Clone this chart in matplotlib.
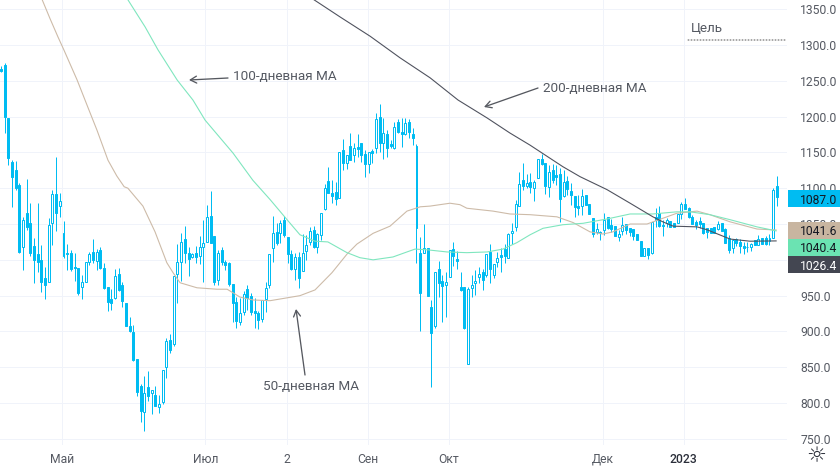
import matplotlib
matplotlib.use("Agg")
import matplotlib.pyplot as plt
from matplotlib.patches import Rectangle

plt.rcParams['font.family'] = ['Roboto', 'DejaVu Sans']

highs = [1270,1275,1198,1139,1138,1107,1060,1113,1079,1031,
 1079,1021,990,1058,1097,1144,1093,1054,1022,1014,
 1010,989,979,997,1011,1029,1015,1018,996,962,
 959,987,989,969,940,920,909,862,827,838,
 845,819,824,812,846,891,897,978,1022,1038,
 1047,1018,1010,1019,1033,1056,1077,1096,1033,1014,
 1018,1000,997,966,948,947,956,965,954,947,
 929,944,969,1008,1061,1051,1056,1061,1032,1014,
 1010,1011,1036,1035,1046,1047,1037,1065,1106,1130,
 1111,1109,1151,1169,1146,1177,1163,1176,1163,1153,
 1151,1155,1205,1218,1198,1181,1167,1192,1197,1198,
 1198,1197,1184,1162,1032,1050,1017,944,983,998,
 979,983,1014,1025,1012,983,962,962,979,986,
 990,987,1008,1022,994,1011,1017,1022,1038,1051,
 1084,1122,1135,1120,1121,1111,1141,1148,1135,1132,
 1134,1132,1128,1125,1117,1107,1089,1091,1099,1091,
 1078,1058,1051,1040,1065,1060,1057,1047,1042,1060,
 1050,1044,1043,1036,1026,1017,1017,1053,1072,1075,
 1056,1058,1054,1051,1064,1081,1086,1074,1063,1056,
 1060,1051,1044,1044,1046,1054,1051,1044,1035,1028,
 1031,1029,1025,1025,1024,1028,1035,1031,1033,1036,1100,1117]
body_tops = [1266,1272,1198,1137,1125,1104,1056,1065,1051,1019,
 1008,1000,975,1049,1092,1092,1082,1038,1010,1010,
 990,989,969,997,1008,1011,1011,1014,989,962,
 945,978,980,965,940,908,899,862,824,814,
 823,819,812,799,846,887,888,978,997,1025,
 1029,1010,1008,1010,1018,1024,1060,1061,1033,1010,
 1014,997,996,966,941,926,952,959,950,929,
 926,944,961,1008,1037,1039,1051,1056,1032,1008,
 1004,1004,1010,1021,1040,1042,1036,1065,1100,1110,
 1093,1095,1151,1153,1146,1159,1156,1158,1163,1148,
 1151,1152,1197,1199,1177,1176,1162,1185,1192,1178,
 1191,1192,1176,1159,1010,1017,1017,934,983,987,
 971,969,1014,1015,1001,962,962,959,965,971,
 980,983,1008,1011,994,1003,1007,1015,1036,1040,
 1078,1106,1111,1107,1109,1109,1141,1141,1135,1123,
 1125,1118,1120,1109,1110,1096,1089,1075,1089,1091,
 1078,1058,1043,1039,1056,1060,1049,1047,1036,1049,
 1050,1044,1043,1036,1026,1017,1017,1053,1060,1065,
 1049,1056,1054,1051,1064,1078,1078,1072,1060,1053,
 1054,1051,1044,1044,1046,1050,1051,1043,1031,1028,
 1029,1025,1019,1018,1022,1028,1029,1031,1031,1031,1097,1103]
body_bottoms = [1264,1199,1142,1116,1100,1011,1018,1046,1010,1000,
 997,969,965,969,1051,1065,1075,1005,1008,987,
 989,954,962,969,997,1000,998,989,961,941,
 940,947,958,943,908,901,860,816,789,788,
 810,814,796,795,802,851,874,883,980,997,
 1010,1001,1004,1004,1005,1018,1025,1024,969,972,
 997,993,966,940,915,913,927,947,927,926,
 916,918,945,965,1017,1024,1037,1035,1008,987,
 987,975,984,1012,1025,1018,1018,1035,1071,1093,
 1089,1085,1086,1135,1135,1139,1146,1155,1146,1134,
 1134,1149,1156,1163,1163,1156,1159,1156,1178,1176,
 1176,1178,1170,1044,954,1010,950,898,908,968,
 964,965,976,1005,998,958,905,855,961,968,
 976,972,979,987,979,997,1004,1005,1003,1038,
 1046,1075,1103,1103,1102,1100,1114,1134,1103,1102,
 1111,1116,1085,1089,1099,1091,1074,1072,1075,1077,
 1064,1036,1039,1038,1042,1044,1043,1033,1032,1040,
 1042,1039,1033,1028,1005,1005,1007,1010,1056,1047,
 1047,1051,1046,1046,1051,1064,1071,1060,1050,1049,
 1050,1037,1039,1037,1037,1043,1040,1024,1014,1017,
 1024,1019,1017,1018,1018,1021,1021,1022,1022,1026,1031,1087]
lows = [1262,1177,1132,1074,1098,1010,986,1042,1005,968,
 983,955,945,969,1021,1040,1060,1003,986,984,
 971,951,945,969,993,996,986,987,959,929,
 930,945,957,934,908,899,859,810,774,761,
 803,785,796,786,799,835,870,880,940,971,
 996,978,1003,996,994,969,1025,1024,965,965,
 993,986,964,913,905,909,923,930,923,905,
 904,913,927,961,997,1021,1024,1032,996,986,
 972,961,984,1000,1021,1017,1010,1028,1070,1093,
 1079,1077,1086,1125,1127,1139,1137,1144,1137,1116,
 1121,1135,1149,1151,1141,1144,1156,1155,1177,1158,
 1174,1170,1160,996,900,1010,950,823,905,948,
 913,920,976,992,987,957,904,855,948,951,
 968,958,976,968,975,990,983,996,1003,1022,
 1040,1075,1098,1100,1093,1082,1114,1132,1092,1088,
 1107,1104,1053,1088,1091,1077,1060,1063,1063,1077,
 1064,1032,1036,1028,1035,1043,1039,1033,1026,1035,
 1036,1033,1028,1028,1005,1005,1001,1008,1046,1046,
 1033,1046,1046,1046,1051,1057,1071,1058,1050,1043,
 1044,1036,1031,1037,1037,1042,1040,1024,1010,1010,
 1019,1010,1008,1011,1012,1021,1021,1022,1021,1021,1031,1075]
direction = ("DDDDDDUDDD" "DDDUUDUDDD" "DDUUUDUDDD" "DUDDDDDDDU" "DUDUUUDUUU"
             "DDUDUUUDDU" "DDDDDUUDDD" "DUUUUDUDDD" "UDUUUDUUUD" "DDUDUDUDDD"
             "UDUDUDDUDD" "UDDDDUDDUD" "DUUDDDDUUU" "UDUDUUDDUU" "UUDUDUUDDU"
             "DDDUDDDDUD" "DDUDUDDDUU" "DDDDDUDUDD" "DUDDUUDDDD" "DDDDDUDDDU"
             "DDDDUDUDDUUD")

ma50_idx = [11.2,13.3,15.5,17.1,20.7,23.7,26.1,29.1,31.5,33.5,34.5,38.6,41.9,45.1,46.8,48.7,53.3,58.7,61.5,65,68.5,73.2,81.3,85.4,90,94.1,96.8,101.2,105.8,110.4,114,116.7,122.1,124.8,126.7,133.8,138.4,143.9,151.2,155.6,160.2,163.7,166.4,171.1,175.7,180,183.8,189.3,192.8,198.3,205.6,210.8]
ma50 = [1363,1337,1311,1293,1251,1212,1181,1139,1117,1102,1100,1075,1039,996,982,968,961,959,959,948,944,943,950,958,982,1008,1022,1037,1047,1068,1074,1075,1079,1077,1072,1068,1064,1063,1060,1052,1039,1036,1039,1050,1050,1058,1065,1068,1063,1053,1043,1041.6]
ma100_idx = [34.5,39.2,42.7,47.9,52.2,55.5,63.1,68.5,73.2,77.8,81.3,85.4,88.9,94.1,97.6,101.2,106.6,110.4,112.6,115.9,121.3,126.7,132.2,136.5,140.3,143.9,147.4,152.8,158.3,164.8,171.1,177.3,183.8,187.4,192.8,198.3,205.6,210.8]
ma100 = [1363,1325,1293,1251,1223,1195,1149,1111,1084,1056,1035,1026,1025,1010,1003,1000,1004,1011,1015,1014,1011,1010,1011,1015,1024,1035,1044,1049,1051,1057,1064,1064,1067,1067,1063,1056,1046,1040.4]
ma200_idx = [85.1,92.2,100.4,108.5,116.7,124.3,132.2,138.4,143.9,152.8,157.5,164.8,171.1,177.3,180,182.8,189.3,192,198.3,203.7,210.8]
ma200 = [1363,1339,1312,1282,1254,1223,1198,1177,1160,1130,1116,1098,1079,1060,1053,1047,1046,1042,1029,1026,1026.4]

y_ticks = [750,800,850,900,950,1000,1050,1100,1150,1200,1250,1300,1350]
x_tick_pos = [16.7,55.6,77.8,99.8,121.8,163.7,185.7]
x_tick_labels = ["Май","Июл","2","Сен","Окт","Дек","2023"]
tag_values = ["1087.0","1041.6","1040.4","1026.4"]

BLUE = "#00BCF2"; TAN = "#CDBBA8"; GREEN = "#7FE6BE"; DARK = "#4F525E"
GRID = "#F0F3FA"; TXT = "#555962"

W, H = 840, 470
PX = 72/100  # one pixel in points
fig = plt.figure(figsize=(W/100, H/100), dpi=100, facecolor="white")
ax = fig.add_axes([0, 25/H, 787/W, 445/H])
ax.set_xlim(-0.27, 213.76)
ax.set_ylim(741.6, 1362.6)
for s in ax.spines.values():
    s.set_visible(False)
ax.set_axisbelow(True)
ax.grid(True, color=GRID, lw=1.0*PX)

ax.yaxis.tick_right()
# the 1000.0 label is wholly covered by the price tags in the reference
ax.set_yticks(y_ticks, ["" if v == 1000 else f"{v:.1f}" for v in y_ticks])
ax.set_xticks(x_tick_pos, x_tick_labels)
ax.tick_params(axis='both', length=0, colors=TXT, labelsize=8.7)
ax.tick_params(axis='y', pad=9.5)
ax.tick_params(axis='x', pad=5.5)
for lab in ax.get_xticklabels():
    if lab.get_text() == "2023":
        lab.set_color("#2A2E39")
        lab.set_fontweight("medium")

n = len(highs)
xs = range(n)
ax.vlines(xs, lows, highs, color=BLUE, lw=1.0*PX, zorder=2)
fc = [BLUE if d == "D" else "white" for d in direction]
ax.bar(xs, [t-b for t, b in zip(body_tops, body_bottoms)], bottom=body_bottoms,
       width=0.54, color=fc, edgecolor=BLUE, linewidth=1.0*PX, zorder=3)

ax.plot(ma50_idx, ma50, color=TAN, lw=1.1*PX, zorder=4)
ax.plot(ma100_idx, ma100, color=GREEN, lw=1.1*PX, zorder=4)
ax.plot(ma200_idx, ma200, color=DARK, lw=1.1*PX, zorder=5)

def fp(x, y):
    return (x/W, 1-y/H)

notes = [("100-дневная МА", (233, 77), (228, 78), (189, 80)),
         ("200-дневная МА", (543, 89), (538, 88), (484, 107)),
         ("50-дневная МА", (263, 386), (305, 375), (296, 309))]
for label, tpos, start, end in notes:
    fig.text(*fp(*tpos), label, color=TXT, fontsize=9.7, ha="left", va="center")
    ax.annotate("", xy=fp(*end), xycoords="figure fraction", xytext=fp(*start),
                textcoords="figure fraction",
                arrowprops=dict(arrowstyle="->,head_length=0.45,head_width=0.25",
                                color="#55585F", lw=1.3*PX, shrinkA=0, shrinkB=0))

fig.text(*fp(691, 28), "Цель", color=TXT, fontsize=9.7, ha="left", va="center")
ax.annotate("", xy=fp(787, 40), xycoords="figure fraction", xytext=fp(688, 40),
            textcoords="figure fraction",
            arrowprops=dict(arrowstyle="-", color="#555", lw=1.0*PX, linestyle=(0, (1, 2)),
                            shrinkA=0, shrinkB=0))

tags = [(tag_values[0], 190, 207, BLUE, "#131722"),
        (tag_values[1], 222, 239, "#C8B5A0", "#131722"),
        (tag_values[2], 239, 256, "#6BE3B2", "#131722"),
        (tag_values[3], 256, 273, "#434651", "white")]
for txt, y0, y1, col, tc in tags:
    fig.add_artist(Rectangle((788/W, 1-y1/H), 52/W, (y1-y0)/H, transform=fig.transFigure,
                             facecolor=col, edgecolor="none", zorder=10))
    fig.text(800/W, 1-(y0+y1)/2/H, txt, color=tc, fontsize=8.7, ha="left", va="center_baseline", zorder=11)

fig.text(*fp(816, 456), "☼", family="DejaVu Sans", color="#2A2E39", fontsize=16, ha="center", va="center")

fig.savefig("out.png", dpi=100, facecolor="white")
